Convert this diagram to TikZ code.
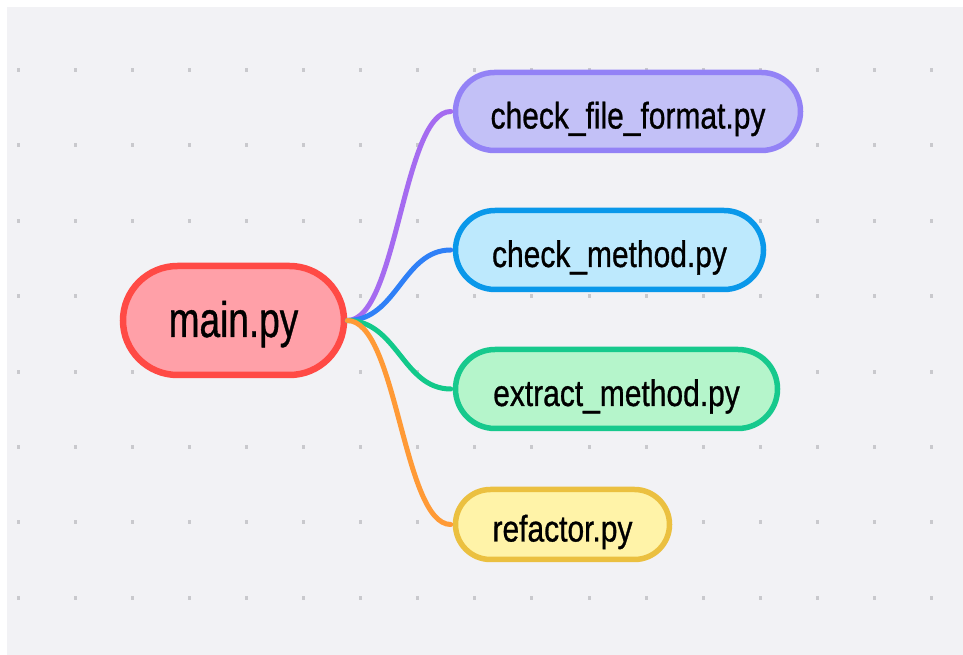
\documentclass[tikz,border=0pt]{standalone}
\usepackage{fontspec}
\setmainfont{Liberation Sans}
\newfontface\labelface[FakeBold=0.9]{Liberation Sans}
\usetikzlibrary{shapes.misc}
\definecolor{canvas}{HTML}{F2F2F5}
\definecolor{dotgray}{HTML}{C9C9CD}
\definecolor{mainfill}{HTML}{FFA0A8}
\definecolor{mainline}{HTML}{FF4A45}
\definecolor{formatfill}{HTML}{C3C1F7}
\definecolor{formatline}{HTML}{9382F6}
\definecolor{formatlink}{HTML}{A56BF0}
\definecolor{methodfill}{HTML}{BDE9FD}
\definecolor{methodline}{HTML}{0A98EA}
\definecolor{methodlink}{HTML}{2F80F7}
\definecolor{extractfill}{HTML}{B5F5CB}
\definecolor{extractline}{HTML}{17C98D}
\definecolor{extractlink}{HTML}{12C98A}
\definecolor{refactorfill}{HTML}{FFF3A8}
\definecolor{refactorline}{HTML}{EBC040}
\definecolor{refactorlink}{HTML}{FF9A36}
\newcommand{\mainlabel}[1]{\scalebox{0.74}[1]{\labelface\fontsize{50}{54}\selectfont #1}}
\newcommand{\filelabel}[1]{\scalebox{0.81}[1]{\labelface\fontsize{37}{40}\selectfont #1}}
\begin{document}
\begin{tikzpicture}[x=1pt,y=1pt,
		filebox/.style={rounded rectangle,draw,line width=5.5pt,inner sep=0pt,minimum height=78pt,text height=34pt,text depth=0pt},
		branch/.style={line width=5pt,line cap=round}]
		\useasboundingbox (0,0) rectangle (963,655);
		\fill[canvas] (7,0) rectangle (963,648);
		\foreach \i in {0,...,16}
			\foreach \j in {0,...,7}
				\fill[dotgray] ({16.5+57.1*\i},{583-75.4*\j}) rectangle +(3,4);
		\node[rounded rectangle,draw=mainline,fill=mainfill,line width=6.5pt,inner sep=0pt,
			minimum width=221pt,minimum height=109pt,text height=33pt,text depth=0pt]
			(main) at (233.5,334.5) {\mainlabel{main.py}};
		\node[filebox,draw=formatline,fill=formatfill,minimum width=345pt] (format) at (628,543.5) {\filelabel{check\_file\_format.py}};
		\node[filebox,draw=methodline,fill=methodfill,minimum width=308pt,minimum height=79pt] (method) at (609.5,405) {\filelabel{check\_method.py}};
		\node[filebox,draw=extractline,fill=extractfill,minimum width=322pt,minimum height=79pt] (extract) at (616.5,266) {\filelabel{extract\_method.py}};
		\node[filebox,draw=refactorline,fill=refactorfill,minimum width=214pt,minimum height=70pt] (refactor) at (562.5,130.5) {\filelabel{refactor.py}};
		\draw[branch,formatlink,shorten >=2pt] (main.east) .. controls +(50,0) and +(-50,0) .. (format.west);
		\draw[branch,methodlink,shorten >=2pt] (main.east) .. controls +(50,0) and +(-50,0) .. (method.west);
		\draw[branch,extractlink,shorten >=2pt] (main.east) .. controls +(50,0) and +(-50,0) .. (extract.west);
		\draw[branch,refactorlink,shorten >=2pt] (main.east) .. controls +(50,0) and +(-50,0) .. (refactor.west);
	\end{tikzpicture}
\end{document}
